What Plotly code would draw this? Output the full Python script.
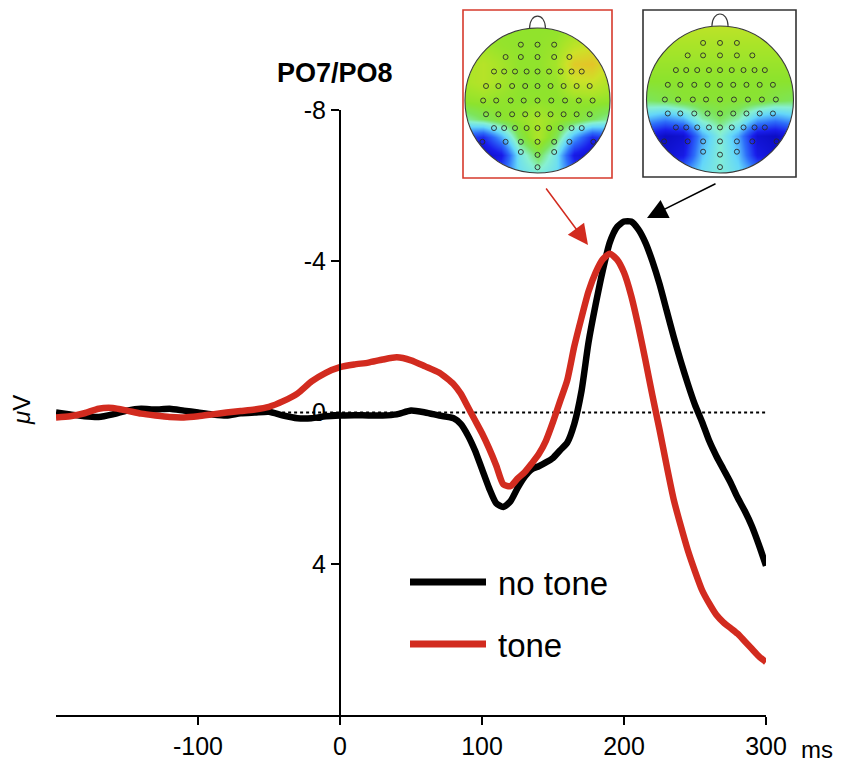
import numpy as np
import plotly.graph_objects as go

# ---------------- data ----------------
t_ms = [-200, -190, -180, -170, -160, -150, -140, -130, -120, -110, -100, -90, -80, -70, -60,
        -50, -40, -30, -20, -10, 0, 10, 20, 30, 40, 50, 60, 70, 80,
        85, 90, 95, 100, 105, 110, 115, 120, 125, 130, 135, 140, 145, 150, 155, 160,
        165, 170, 175, 180, 185, 190, 195, 200, 205, 210, 215, 220, 225, 230, 235, 240,
        245, 250, 255, 260, 265, 270, 275, 280, 285, 290, 295, 300]

no_tone_uv = [0.0, 0.05, 0.1, 0.12, 0.05, -0.05, -0.1, -0.08, -0.1, -0.05, 0.0, 0.05, 0.08, 0.02, 0.0,
              -0.02, 0.08, 0.15, 0.15, 0.1, 0.08, 0.07, 0.08, 0.08, 0.05, -0.05, 0.0, 0.08, 0.15,
              0.3, 0.6, 1.0, 1.5, 2.0, 2.4, 2.5, 2.35, 2.0, 1.7, 1.5, 1.42, 1.32, 1.2, 1.0, 0.8,
              0.3, -0.55, -1.85, -2.85, -3.75, -4.5, -4.9, -5.05, -5.05, -4.85, -4.5, -4.0, -3.4, -2.7, -2.0, -1.35,
              -0.75, -0.2, 0.25, 0.75, 1.15, 1.5, 1.85, 2.25, 2.6, 3.0, 3.5, 4.05]

tone_uv = [0.13, 0.1, 0.02, -0.1, -0.12, -0.05, 0.03, 0.08, 0.12, 0.13, 0.1, 0.05, 0.0, -0.04, -0.08,
           -0.15, -0.3, -0.5, -0.82, -1.05, -1.2, -1.27, -1.32, -1.4, -1.46, -1.38, -1.22, -1.05, -0.75,
           -0.5, -0.15, 0.2, 0.55, 0.95, 1.4, 1.9, 1.95, 1.75, 1.58, 1.35, 1.1, 0.75, 0.25, -0.3, -0.85,
           -1.75, -2.5, -3.2, -3.7, -4.05, -4.2, -4.05, -3.7, -3.1, -2.3, -1.4, -0.45, 0.45, 1.4, 2.3, 3.0,
           3.65, 4.2, 4.7, 5.05, 5.35, 5.55, 5.7, 5.85, 6.05, 6.25, 6.45, 6.6]

x_ticks = [-100, 0, 100, 200, 300]
x_ticklabels = ["-100", "0", "100", "200", "300"]
y_ticks = [-8, -4, 0, 4]
y_ticklabels = ["-8", "-4", "0", "4"]

series_names = ["no tone", "tone"]
series_colors = ["#000000", "#d22b1f"]

# topomap grids (rows top -> bottom, cols left -> right), normalized amplitude 0..1
topo_grid_coords = [-1.0, -0.75, -0.5, -0.25, 0.0, 0.25, 0.5, 0.75, 1.0]
topo_tone = [
    [0.63, 0.63, 0.62, 0.62, 0.62, 0.62, 0.63, 0.64, 0.63],
    [0.65, 0.65, 0.63, 0.62, 0.62, 0.64, 0.72, 0.76, 0.70],
    [0.67, 0.70, 0.66, 0.62, 0.62, 0.66, 0.84, 0.86, 0.74],
    [0.67, 0.70, 0.66, 0.62, 0.61, 0.63, 0.74, 0.75, 0.68],
    [0.62, 0.63, 0.62, 0.61, 0.62, 0.61, 0.62, 0.63, 0.62],
    [0.50, 0.55, 0.60, 0.63, 0.67, 0.63, 0.60, 0.55, 0.50],
    [0.20, 0.14, 0.32, 0.56, 0.68, 0.56, 0.32, 0.14, 0.20],
    [0.05, 0.02, 0.10, 0.42, 0.56, 0.42, 0.10, 0.03, 0.05],
    [0.10, 0.08, 0.22, 0.40, 0.45, 0.40, 0.22, 0.08, 0.10],
]
topo_no_tone = [
    [0.72, 0.72, 0.72, 0.72, 0.72, 0.72, 0.72, 0.72, 0.72],
    [0.67, 0.67, 0.67, 0.67, 0.67, 0.67, 0.67, 0.67, 0.67],
    [0.64, 0.64, 0.64, 0.64, 0.64, 0.64, 0.64, 0.64, 0.64],
    [0.61, 0.61, 0.61, 0.61, 0.61, 0.61, 0.61, 0.61, 0.61],
    [0.55, 0.57, 0.60, 0.60, 0.60, 0.60, 0.60, 0.57, 0.55],
    [0.35, 0.30, 0.35, 0.50, 0.55, 0.50, 0.35, 0.30, 0.35],
    [0.10, 0.02, 0.05, 0.32, 0.46, 0.32, 0.05, 0.02, 0.10],
    [0.10, 0.05, 0.10, 0.36, 0.46, 0.36, 0.10, 0.05, 0.10],
    [0.30, 0.25, 0.30, 0.40, 0.45, 0.40, 0.30, 0.25, 0.30],
]

# electrode layout (normalized head coords): rows of (y, [x...])
electrode_rows = [
    (0.77, [-0.23, 0.0, 0.23]),
    (0.60, [-0.44, -0.23, 0.0, 0.23, 0.44]),
    (0.40, [-0.60, -0.46, -0.31, -0.15, 0.0, 0.16, 0.32, 0.47, 0.61]),
    (0.20, [-0.71, -0.54, -0.35, -0.17, 0.0, 0.18, 0.36, 0.54, 0.72]),
    (0.00, [-0.75, -0.57, -0.37, -0.19, 0.0, 0.19, 0.38, 0.57, 0.76]),
    (-0.19, [-0.71, -0.54, -0.35, -0.17, 0.0, 0.18, 0.36, 0.54, 0.72]),
    (-0.38, [-0.60, -0.46, -0.31, -0.15, 0.0, 0.16, 0.32, 0.47, 0.61]),
    (-0.57, [-0.76, -0.44, -0.23, 0.0, 0.23, 0.44, 0.77]),
    (-0.71, [-0.23, 0.23]),
    (-0.75, [0.0]),
    (-0.92, [0.0]),
]

topo_colorscale = [
    [0.0, "rgb(10,10,190)"], [0.12, "rgb(25,30,235)"], [0.25, "rgb(45,110,250)"],
    [0.38, "rgb(100,215,250)"], [0.47, "rgb(135,240,210)"], [0.55, "rgb(125,228,90)"],
    [0.61, "rgb(140,227,45)"], [0.67, "rgb(170,228,40)"], [0.76, "rgb(205,225,40)"],
    [0.86, "rgb(228,196,40)"], [1.0, "rgb(228,120,30)"],
]

# ---------------- layout geometry (pixels) ----------------
W, H = 841, 767
FONT = "Liberation Sans, Arial, Helvetica, sans-serif"
px_l, px_r, px_t, px_b = 56, 766, 110, 715


def fx(px):
    return px / W


def fy(py):
    return 1 - py / H


fig = go.Figure()

# dotted zero line
fig.add_trace(go.Scatter(x=[-45, 300], y=[0, 0], mode="lines",
                         line=dict(color="black", width=2, dash="dot"),
                         hoverinfo="skip", xaxis="x", yaxis="y"))
for name, vals, col in zip(series_names, [no_tone_uv, tone_uv], series_colors):
    fig.add_trace(go.Scatter(x=t_ms, y=vals, mode="lines", name=name,
                             line=dict(color=col, width=6.5, shape="spline", smoothing=0.6),
                             xaxis="x", yaxis="y"))

# topomaps: (grid, box px, circle center/radius px, border color, axis id)
topo_specs = [
    (topo_tone, (463, 612, 10, 178), (537.5, 100.5, 72.5), "#d63a2c", "2"),
    (topo_no_tone, (643, 796, 10, 177), (720.0, 99.5, 73.5), "#333333", "3"),
]

shapes = []
theta = np.linspace(0, -2 * np.pi, 121)
for grid, box, circ, bcol, ax_id in topo_specs:
    bx0, bx1, by0, by1 = box
    cx, cy, r = circ
    xr = [(bx0 - cx) / r, (bx1 - cx) / r]
    yr = [(cy - by1) / r, (cy - by0) / r]
    fig.add_trace(go.Heatmap(z=grid, x=topo_grid_coords, y=topo_grid_coords[::-1],
                             colorscale=topo_colorscale, zmin=0, zmax=1, zsmooth="best",
                             showscale=False, hoverinfo="skip",
                             xaxis="x" + ax_id, yaxis="y" + ax_id))
    ex, ey = [], []
    for yy, xs in electrode_rows:
        for xx in xs:
            ex.append(xx)
            ey.append(yy)
    fig.add_trace(go.Scatter(x=ex, y=ey, mode="markers",
                             marker=dict(symbol="circle-open", size=5, color="#2a2a2a",
                                         line=dict(width=0.9)),
                             hoverinfo="skip", xaxis="x" + ax_id, yaxis="y" + ax_id))
    fig.update_layout(**{
        "xaxis" + ax_id: dict(domain=[fx(bx0), fx(bx1)], range=xr, visible=False,
                              anchor="y" + ax_id, fixedrange=True),
        "yaxis" + ax_id: dict(domain=[fy(by1), fy(by0)], range=yr, visible=False,
                              anchor="x" + ax_id, fixedrange=True),
    })
    # white mask outside the head circle
    path = "M {a},{b} L {c},{b} L {c},{d} L {a},{d} Z ".format(a=xr[0], b=yr[0],
                                                              c=xr[1], d=yr[1])
    pts = " L ".join("{:.4f},{:.4f}".format(np.cos(a), np.sin(a)) for a in theta)
    path += "M " + pts + " Z"
    shapes.append(dict(type="path", path=path, xref="x" + ax_id, yref="y" + ax_id,
                       fillcolor="white", line=dict(width=0), layer="above"))
    shapes.append(dict(type="circle", x0=-1, x1=1, y0=-1, y1=1, xref="x" + ax_id,
                       yref="y" + ax_id, line=dict(color="#3a3a3a", width=1.1), layer="above"))
    shapes.append(dict(type="path", path="M -0.11,0.994 C -0.11,1.22 0.11,1.22 0.11,0.994",
                       xref="x" + ax_id, yref="y" + ax_id,
                       line=dict(color="#3a3a3a", width=1.1), layer="above"))
    shapes.append(dict(type="rect", x0=fx(bx0), x1=fx(bx1), y0=fy(by1), y1=fy(by0),
                       xref="paper", yref="paper", line=dict(color=bcol, width=1.6),
                       layer="above"))

# legend (manual)
legend_y = [582, 644]
for name, col, ly in zip(series_names, series_colors, legend_y):
    shapes.append(dict(type="line", x0=fx(410), x1=fx(486), y0=fy(ly), y1=fy(ly),
                       xref="paper", yref="paper", line=dict(color=col, width=7)))

annotations = []
for name, ly in zip(series_names, legend_y):
    annotations.append(dict(text=name, x=fx(496), y=fy(ly + 1), xref="paper", yref="paper",
                            xanchor="left", yanchor="middle", showarrow=False,
                            font=dict(family=FONT, size=33, color="black")))

annotations += [
    dict(text="<b>PO7/PO8</b>", x=fx(335), y=fy(73), xref="paper", yref="paper",
         showarrow=False, xanchor="center", yanchor="middle",
         font=dict(family=FONT, size=27, color="black")),
    dict(text="<i>μ</i>V", x=fx(22), y=fy(410), xref="paper", yref="paper",
         showarrow=False, textangle=-90, xanchor="center", yanchor="middle",
         font=dict(family=FONT, size=24, color="black")),
    dict(text="ms", x=fx(799), y=fy(749), xref="paper", yref="paper",
         showarrow=False, xanchor="left", yanchor="middle",
         font=dict(family=FONT, size=24, color="black")),
    # arrows from topomaps to peaks (offsets in pixels)
    dict(text="", x=fx(588), y=fy(245), xref="paper", yref="paper",
         ax=545 - 588, ay=187 - 245, axref="pixel", ayref="pixel",
         showarrow=True, arrowhead=2, arrowsize=2.7, arrowwidth=1.5, arrowcolor="#d22b1f"),
    dict(text="", x=fx(647), y=fy(218), xref="paper", yref="paper",
         ax=717 - 647, ay=183 - 218, axref="pixel", ayref="pixel",
         showarrow=True, arrowhead=2, arrowsize=2.7, arrowwidth=1.5, arrowcolor="black"),
]

fig.update_layout(
    width=W, height=H,
    margin=dict(l=0, r=0, t=0, b=0),
    paper_bgcolor="white", plot_bgcolor="white",
    showlegend=False,
    xaxis=dict(domain=[fx(px_l), fx(px_r)], range=[-200, 300], showgrid=False, zeroline=False,
               showline=True, linecolor="black", linewidth=2.2,
               tickmode="array", tickvals=x_ticks, ticktext=x_ticklabels,
               ticks="outside", ticklen=8, tickwidth=2, tickcolor="black",
               tickfont=dict(family=FONT, size=25, color="black"),
               anchor="y", automargin=False, fixedrange=True),
    yaxis=dict(domain=[fy(px_b), fy(px_t)], range=[8, -8], showgrid=False, zeroline=False,
               showline=True, linecolor="black", linewidth=2.2,
               tickmode="array", tickvals=y_ticks, ticktext=y_ticklabels,
               ticks="outside", ticklen=8, tickwidth=2, tickcolor="black",
               tickfont=dict(family=FONT, size=25, color="black"),
               anchor="free", position=fx(340), automargin=False, fixedrange=True),
    shapes=shapes,
    annotations=annotations,
)

fig.write_html("out.html", config={"displayModeBar": False},
               post_script="document.body.style.margin='0px';document.body.style.padding='0px';")
